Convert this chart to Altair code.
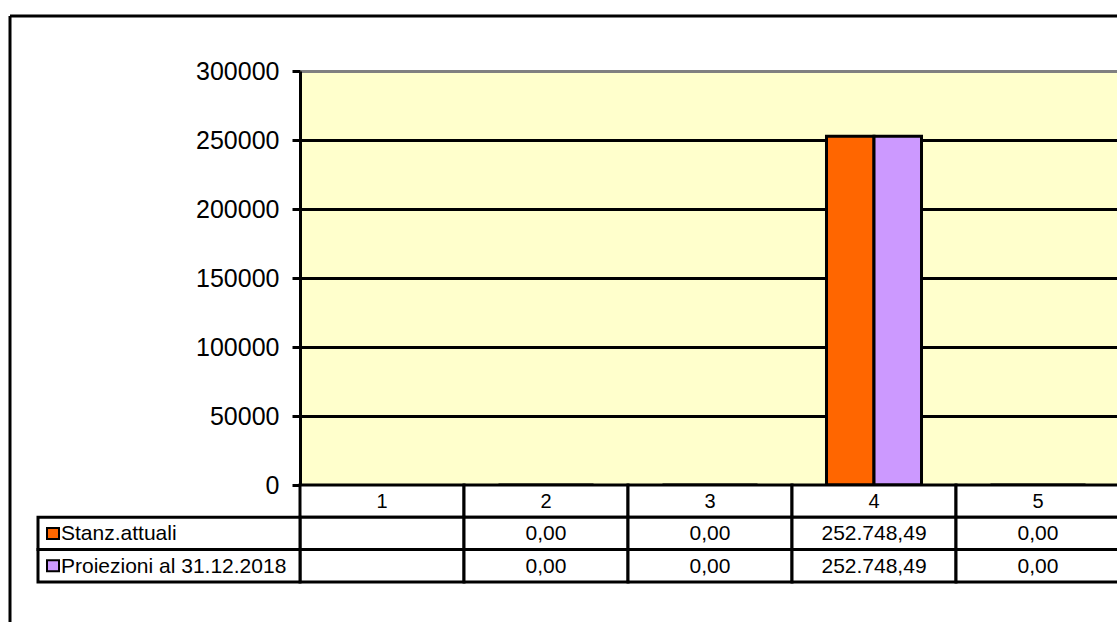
import altair as alt
import pandas as pd

# Categories and the two series shown as bars and in the data table
categories = ["1", "2", "3", "4", "5"]
series_names = ["Stanz.attuali", "Proiezioni al 31.12.2018"]
stanz_attuali = [None, 0.0, 0.0, 252748.49, 0.0]
proiezioni = [None, 0.0, 0.0, 252748.49, 0.0]
series_colors = ["#FF6600", "#CC99FF"]
y_ticks = [0, 50000, 100000, 150000, 200000, 250000, 300000]

FONT = "Liberation Sans"


def fmt_it(v):
    """Italian number format: 252.748,49"""
    if v is None:
        return ""
    s = f"{v:,.2f}"
    return s.replace(",", "X").replace(".", ",").replace("X", ".")


rows = []
for name, vals in zip(series_names, [stanz_attuali, proiezioni]):
    for cat, v in zip(categories, vals):
        rows.append({"cat": cat, "serie": name, "value": v, "label": fmt_it(v)})
long_df = pd.DataFrame(rows)
cat_df = pd.DataFrame({"cat": categories})
one = pd.DataFrame({"k": [0]})

PLOT_W, PLOT_H = 817, 414
ROW_H = 32.3

x_scale = alt.Scale(domain=categories, range=[0, 820], paddingInner=0, paddingOuter=0)
x_enc = alt.X("cat:N", scale=x_scale, axis=None)
color_enc = alt.Color("serie:N", scale=alt.Scale(domain=series_names, range=series_colors), legend=None)

grid_color = {"condition": {"test": "datum.value === 300000", "value": "#808080"}, "value": "black"}

# Clustered bars
bars = alt.Chart(long_df.dropna(subset=["value"])).mark_bar(
    stroke="black", strokeWidth=3
).encode(
    x=x_enc,
    xOffset=alt.XOffset(
        "serie:N",
        scale=alt.Scale(domain=series_names, paddingInner=0, paddingOuter=0.726),
    ),
    y=alt.Y(
        "value:Q",
        scale=alt.Scale(domain=[0, 300000], nice=False),
        axis=alt.Axis(
            values=y_ticks, format="d", title=None,
            labelFont=FONT, labelFontSize=25, labelColor="black", labelPadding=13,
            tickColor="black", tickWidth=3, tickSize=8,
            domainColor="black", domainWidth=3,
            grid=True, gridColor=grid_color, gridWidth=3, gridOpacity=1,
        ),
    ),
    color=color_enc,
)

layers = [bars]

# Data table: header row with the category numbers
header_top = PLOT_H
layers.append(
    alt.Chart(cat_df).mark_rect(fill="white", stroke="black", strokeWidth=3).encode(
        x=x_enc, y=alt.value(header_top), y2=alt.value(header_top + ROW_H)
    )
)
layers.append(
    alt.Chart(cat_df).mark_text(font=FONT, fontSize=20, color="black", baseline="middle").encode(
        x=x_enc, y=alt.value(header_top + ROW_H / 2 + 1), text="cat:N"
    )
)

# One table row per series
for i, name in enumerate(series_names):
    top = header_top + ROW_H * (i + 1)
    sdf = long_df[long_df["serie"] == name]
    sone = pd.DataFrame({"serie": [name]})
    layers.append(
        alt.Chart(sdf).mark_rect(fill="white", stroke="black", strokeWidth=3).encode(
            x=x_enc, y=alt.value(top), y2=alt.value(top + ROW_H)
        )
    )
    layers.append(
        alt.Chart(sdf).mark_text(font=FONT, fontSize=21, color="black", baseline="middle").encode(
            x=x_enc, y=alt.value(top + ROW_H / 2 + 1), text="label:N"
        )
    )
    # row header cell with legend key and series name
    layers.append(
        alt.Chart(sone).mark_rect(fill="white", stroke="black", strokeWidth=3).encode(
            x=alt.value(-262), x2=alt.value(0), y=alt.value(top), y2=alt.value(top + ROW_H)
        )
    )
    layers.append(
        alt.Chart(sone).mark_rect(stroke="black", strokeWidth=2).encode(
            x=alt.value(-253), x2=alt.value(-241),
            y=alt.value(top + ROW_H / 2 - 5.5), y2=alt.value(top + ROW_H / 2 + 5.5),
            color=color_enc,
        )
    )
    layers.append(
        alt.Chart(sone).mark_text(
            font=FONT, fontSize=21, color="black", align="left", baseline="middle"
        ).encode(
            x=alt.value(-239), y=alt.value(top + ROW_H / 2 + 1), text="serie:N"
        )
    )

# Outer chart frame (top and left edges)
layers.append(
    alt.Chart(one).mark_rule(color="black", strokeWidth=3).encode(
        x=alt.value(-290), x2=alt.value(840), y=alt.value(-55)
    )
)
layers.append(
    alt.Chart(one).mark_rule(color="black", strokeWidth=3).encode(
        x=alt.value(-290), y=alt.value(-55), y2=alt.value(700)
    )
)

chart = alt.layer(*layers).properties(
    width=PLOT_W,
    height=PLOT_H,
    padding={"left": 300, "top": 71, "right": 0, "bottom": 137},
    autosize=alt.AutoSizeParams(type="none"),
    background="white",
).configure_view(
    fill="#FFFFCC", stroke=None
)

chart.save("out.html", embed_options={"renderer": "svg", "actions": False})
